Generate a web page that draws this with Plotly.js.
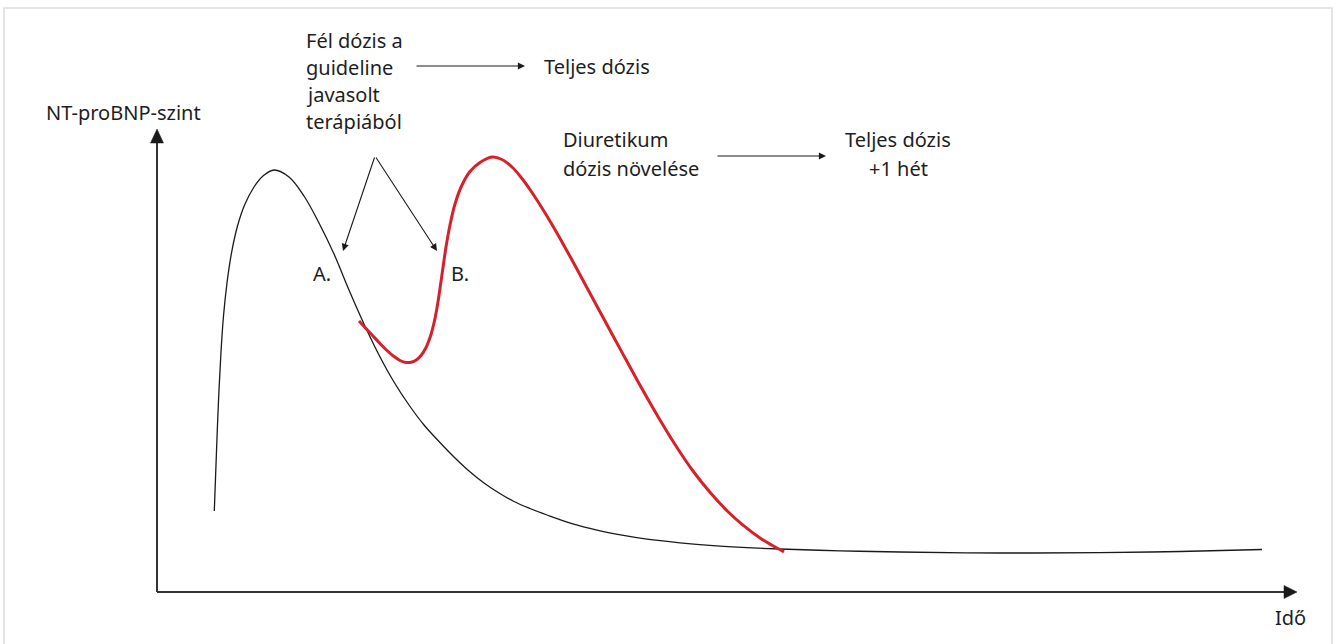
<!DOCTYPE html>
<html>
<head>
<meta charset="utf-8">
<script src="https://cdn.plot.ly/plotly-3.0.1.min.js"></script>
<style>html,body{margin:0;padding:0;background:#fff;}#chart{width:1338px;height:644px;}</style>
</head>
<body>
<div id="chart"></div>
<script>
// Schematic NT-proBNP curves (arbitrary units)
var blackX = [5.73, 5.88, 6.03, 6.2, 6.4, 6.65, 7.0, 7.45, 8.05, 8.8, 9.7, 10.6, 11.7, 13.2, 14.7, 16.2, 17.7, 19.2, 20.7, 22.2, 23.7, 25.2, 26.7, 28.2, 29.7, 31.2, 32.7, 34.2, 35.7, 37.3, 39.0, 41.5, 44.0, 46.5, 49.0, 52.3, 55.6, 59.0, 62.3, 68.3, 74.3, 84.3, 94.3, 102.3, 110.5];
var blackY = [16.2, 24.4, 32.4, 40.4, 48.0, 55.2, 61.8, 67.8, 73.2, 77.6, 81.0, 83.2, 84.4, 83.0, 79.2, 73.8, 67.6, 60.4, 53.6, 47.4, 42.0, 37.4, 33.4, 30.1, 27.0, 24.2, 21.8, 19.8, 18.1, 16.7, 15.4, 13.66, 12.36, 11.36, 10.56, 9.84, 9.28, 8.88, 8.6, 8.24, 8.0, 7.8, 7.88, 8.1, 8.5];
var redX = [20.2, 20.9, 21.6, 22.3, 23.0, 23.7, 24.3, 24.9, 25.5, 26.0, 26.4, 26.8, 27.1, 27.4, 27.7, 28.0, 28.3, 28.6, 28.9, 29.3, 29.8, 30.5, 31.3, 32.3, 33.5, 34.5, 35.5, 36.5, 37.5, 38.5, 39.5, 40.5, 41.5, 42.5, 43.5, 44.5, 45.5, 47.0, 48.6, 50.3, 51.9, 53.6, 55.3, 57.0, 58.6, 60.3, 61.5, 62.7];
var redY = [54.2, 52.7, 51.2, 49.7, 48.3, 47.1, 46.3, 45.9, 46.0, 46.5, 47.3, 48.5, 49.8, 51.5, 53.8, 56.8, 60.7, 64.9, 69.0, 73.4, 77.6, 81.4, 84.1, 85.9, 87.0, 86.5, 85.0, 82.7, 79.9, 76.8, 73.5, 70.0, 66.4, 62.7, 59.0, 55.3, 51.6, 46.1, 40.3, 34.4, 29.2, 24.2, 19.94, 16.26, 13.38, 10.82, 9.34, 8.02];

var yAxisLabel = 'NT-proBNP-szint';
var xAxisLabel = 'Idő';
var topLeftLines = ['Fél dózis a', 'guideline', 'javasolt', 'terápiából'];
var topRightText = 'Teljes dózis';
var diureticLines = ['Diuretikum', 'dózis növelése'];
var laterLines = ['Teljes dózis', '+1 hét'];
var labelA = 'A.';
var labelB = 'B.';

var W = 1338, H = 644;
function X(px){ return px / W; }
function Y(py){ return 1 - py / H; }
var FONT = '"Noto Sans", "Open Sans", sans-serif';
var TXT = '#1e1e1e';

var traces = [
  {x: blackX, y: blackY, type: 'scatter', mode: 'lines',
   line: {color: '#1a1a1a', width: 1.3, shape: 'spline', smoothing: 1}, hoverinfo: 'skip'},
  {x: redX, y: redY, type: 'scatter', mode: 'lines',
   line: {color: '#d6212a', width: 3, shape: 'spline', smoothing: 1}, hoverinfo: 'skip'}
];

function txt(text, px, py, anchor, size){
  return {text: text, x: X(px), y: Y(py), xref: 'paper', yref: 'paper',
    xanchor: anchor || 'left', yanchor: 'middle', showarrow: false,
    font: {family: FONT, size: size || 20, color: TXT}};
}
function arr(hx, hy, tx, ty){
  return {text: '', x: X(hx), y: Y(hy), xref: 'paper', yref: 'paper',
    ax: tx - hx, ay: ty - hy, showarrow: true, arrowhead: 2, arrowsize: 1.3,
    arrowwidth: 1.1, arrowcolor: '#1a1a1a'};
}

var annotations = [
  txt(yAxisLabel, 44, 113),
  txt(xAxisLabel, 1273, 617),
  txt(topRightText, 542, 66),
  txt(labelA, 311, 273),
  txt(labelB, 449, 273),
  arr(525, 66, 415, 66),
  arr(826, 156, 716, 156),
  arr(343, 251, 375, 156),
  arr(437, 251, 375, 156)
];
topLeftLines.forEach(function(t, i){ annotations.push(txt(t, 304, 40 + i * 27)); });
diureticLines.forEach(function(t, i){ annotations.push(txt(t, 561, 140 + i * 28)); });
laterLines.forEach(function(t, i){ annotations.push(txt(t, 898, 140 + i * 28, 'center')); });

var axColor = '#333333';
var shapes = [
  {type: 'rect', xref: 'paper', yref: 'paper', x0: X(4), x1: X(1332), y0: Y(660), y1: Y(8),
   line: {color: '#dcdcdc', width: 1.5}, fillcolor: 'rgba(0,0,0,0)'},
  {type: 'line', xref: 'paper', yref: 'paper', x0: X(157), y0: Y(592), x1: X(1286), y1: Y(592),
   line: {color: axColor, width: 2}},
  {type: 'line', xref: 'paper', yref: 'paper', x0: X(157), y0: Y(592), x1: X(157), y1: Y(140),
   line: {color: axColor, width: 2}},
  {type: 'path', xref: 'paper', yref: 'paper',
   path: 'M ' + X(1284) + ',' + Y(585.5) + ' L ' + X(1297) + ',' + Y(592) + ' L ' + X(1284) + ',' + Y(598.5) + ' Z',
   fillcolor: '#1a1a1a', line: {color: '#1a1a1a', width: 0.5}},
  {type: 'path', xref: 'paper', yref: 'paper',
   path: 'M ' + X(150.5) + ',' + Y(143) + ' L ' + X(157) + ',' + Y(129) + ' L ' + X(163.5) + ',' + Y(143) + ' Z',
   fillcolor: '#1a1a1a', line: {color: '#1a1a1a', width: 0.5}}
];

var layout = {
  width: W, height: H,
  margin: {l: 0, r: 0, t: 0, b: 0},
  paper_bgcolor: '#ffffff', plot_bgcolor: '#ffffff',
  showlegend: false,
  xaxis: {range: [-15.7, 118.1], visible: false, fixedrange: true},
  yaxis: {range: [-10.4, 118.4], visible: false, fixedrange: true},
  annotations: annotations,
  shapes: shapes
};

Plotly.newPlot('chart', traces, layout, {displayModeBar: false, staticPlot: true});
</script>
</body>
</html>
